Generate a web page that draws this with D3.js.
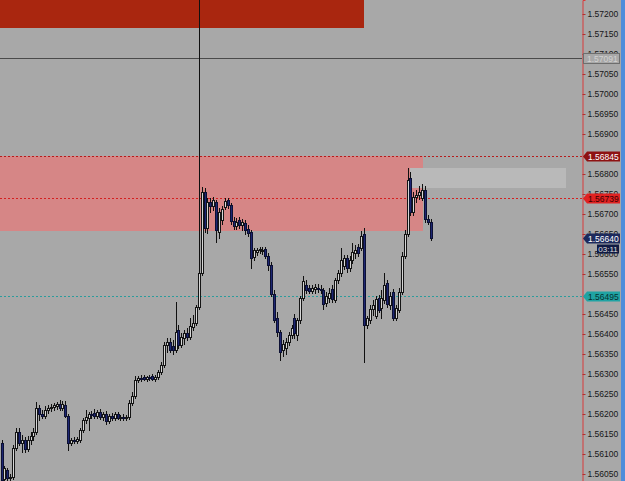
<!DOCTYPE html>
<html>
<head>
<meta charset="utf-8">
<script src="https://cdn.jsdelivr.net/npm/d3@7"></script>
<style>
  body { margin: 0; background: #a8a8a8; }
  svg { display: block; }
  text { font-family: 'Liberation Sans', Arial, sans-serif; }
</style>
</head>
<body>
<div class="chart"></div>
<script>
const WIDTH = 625;
const HEIGHT = 481;
const AXIS_X = 582;
const BG = '#a8a8a8';

// candles (oldest -> newest)
const opens = [
  1.56128, 1.56038, 1.56060, 1.56040, 1.56043, 1.56115, 1.56155, 1.56128, 1.56135, 1.56113,
  1.56135, 1.56145, 1.56155, 1.56215, 1.56200, 1.56195, 1.56210, 1.56215, 1.56218, 1.56220,
  1.56225, 1.56215, 1.56223, 1.56195, 1.56128, 1.56135, 1.56133, 1.56135, 1.56160, 1.56185,
  1.56190, 1.56200, 1.56203, 1.56195, 1.56205, 1.56193, 1.56200, 1.56183, 1.56195, 1.56190,
  1.56200, 1.56190, 1.56193, 1.56190, 1.56193, 1.56228, 1.56245, 1.56285, 1.56290, 1.56293,
  1.56288, 1.56293, 1.56295, 1.56288, 1.56293, 1.56305, 1.56323, 1.56373, 1.56380, 1.56370,
  1.56360, 1.56410, 1.56373, 1.56390, 1.56403, 1.56393, 1.56418, 1.56428, 1.56468, 1.56553,
  1.56755, 1.56665, 1.56730, 1.56720, 1.56730, 1.56655, 1.56685, 1.56718, 1.56735, 1.56723,
  1.56683, 1.56670, 1.56685, 1.56673, 1.56678, 1.56663, 1.56655, 1.56593, 1.56605, 1.56610,
  1.56610, 1.56613, 1.56595, 1.56573, 1.56500, 1.56440, 1.56405, 1.56360, 1.56365, 1.56380,
  1.56398, 1.56440, 1.56398, 1.56435, 1.56490, 1.56523, 1.56515, 1.56508, 1.56513, 1.56515,
  1.56513, 1.56510, 1.56478, 1.56490, 1.56513, 1.56485, 1.56535, 1.56553, 1.56570, 1.56590,
  1.56565, 1.56585, 1.56603, 1.56618, 1.56615, 1.56650, 1.56423, 1.56435, 1.56463, 1.56445,
  1.56490, 1.56465, 1.56485, 1.56528, 1.56473, 1.56505, 1.56440, 1.56460, 1.56505, 1.56595,
  1.56650, 1.56790, 1.56705, 1.56743, 1.56748, 1.56740, 1.56760, 1.56688, 1.56680
];
const highs = [
  1.56135, 1.56070, 1.56065, 1.56050, 1.56123, 1.56165, 1.56165, 1.56148, 1.56143, 1.56145,
  1.56155, 1.56165, 1.56230, 1.56223, 1.56210, 1.56220, 1.56223, 1.56225, 1.56228, 1.56230,
  1.56235, 1.56233, 1.56233, 1.56200, 1.56140, 1.56143, 1.56143, 1.56165, 1.56190, 1.56210,
  1.56205, 1.56208, 1.56213, 1.56210, 1.56213, 1.56205, 1.56208, 1.56200, 1.56203, 1.56205,
  1.56205, 1.56198, 1.56200, 1.56198, 1.56235, 1.56255, 1.56295, 1.56295, 1.56298, 1.56298,
  1.56295, 1.56298, 1.56300, 1.56298, 1.56310, 1.56330, 1.56380, 1.56390, 1.56390, 1.56385,
  1.56480, 1.56423, 1.56403, 1.56410, 1.56415, 1.56440, 1.56448, 1.56473, 1.57260, 1.56768,
  1.56765, 1.56740, 1.56740, 1.56743, 1.56735, 1.56715, 1.56720, 1.56740, 1.56740, 1.56728,
  1.56693, 1.56690, 1.56693, 1.56688, 1.56685, 1.56673, 1.56660, 1.56615, 1.56615, 1.56618,
  1.56618, 1.56618, 1.56603, 1.56580, 1.56510, 1.56455, 1.56410, 1.56385, 1.56390, 1.56405,
  1.56423, 1.56450, 1.56440, 1.56495, 1.56545, 1.56535, 1.56523, 1.56523, 1.56525, 1.56525,
  1.56523, 1.56515, 1.56505, 1.56515, 1.56523, 1.56540, 1.56560, 1.56615, 1.56598, 1.56598,
  1.56595, 1.56628, 1.56623, 1.56625, 1.56658, 1.56665, 1.56445, 1.56473, 1.56485, 1.56495,
  1.56498, 1.56510, 1.56553, 1.56535, 1.56505, 1.56513, 1.56473, 1.56515, 1.56605, 1.56660,
  1.56815, 1.56805, 1.56755, 1.56760, 1.56770, 1.56775, 1.56770, 1.56698, 1.56688
];
const lows = [
  1.56033, 1.56033, 1.56033, 1.56033, 1.56038, 1.56110, 1.56123, 1.56105, 1.56105, 1.56108,
  1.56125, 1.56135, 1.56150, 1.56185, 1.56190, 1.56190, 1.56203, 1.56208, 1.56210, 1.56213,
  1.56210, 1.56210, 1.56193, 1.56110, 1.56123, 1.56128, 1.56128, 1.56130, 1.56155, 1.56178,
  1.56160, 1.56190, 1.56190, 1.56190, 1.56188, 1.56185, 1.56175, 1.56178, 1.56185, 1.56185,
  1.56188, 1.56185, 1.56185, 1.56185, 1.56188, 1.56223, 1.56240, 1.56280, 1.56283, 1.56285,
  1.56283, 1.56285, 1.56285, 1.56283, 1.56288, 1.56300, 1.56318, 1.56355, 1.56355, 1.56350,
  1.56355, 1.56365, 1.56368, 1.56375, 1.56385, 1.56388, 1.56410, 1.56423, 1.56463, 1.56548,
  1.56655, 1.56653, 1.56705, 1.56710, 1.56630, 1.56640, 1.56675, 1.56713, 1.56715, 1.56675,
  1.56663, 1.56663, 1.56665, 1.56660, 1.56650, 1.56645, 1.56565, 1.56585, 1.56598, 1.56603,
  1.56600, 1.56590, 1.56560, 1.56495, 1.56430, 1.56395, 1.56335, 1.56345, 1.56350, 1.56373,
  1.56390, 1.56390, 1.56385, 1.56428, 1.56485, 1.56503, 1.56503, 1.56503, 1.56503, 1.56505,
  1.56503, 1.56463, 1.56470, 1.56480, 1.56480, 1.56480, 1.56528, 1.56545, 1.56563, 1.56555,
  1.56558, 1.56578, 1.56590, 1.56595, 1.56610, 1.56330, 1.56415, 1.56428, 1.56448, 1.56440,
  1.56455, 1.56440, 1.56478, 1.56468, 1.56463, 1.56435, 1.56435, 1.56455, 1.56500, 1.56590,
  1.56645, 1.56698, 1.56698, 1.56730, 1.56738, 1.56735, 1.56680, 1.56675, 1.56635
];
const closes = [
  1.56035, 1.56065, 1.56040, 1.56043, 1.56115, 1.56155, 1.56128, 1.56135, 1.56113, 1.56135,
  1.56145, 1.56155, 1.56215, 1.56200, 1.56195, 1.56210, 1.56215, 1.56218, 1.56223, 1.56225,
  1.56215, 1.56225, 1.56195, 1.56128, 1.56135, 1.56133, 1.56138, 1.56160, 1.56185, 1.56193,
  1.56200, 1.56198, 1.56195, 1.56205, 1.56193, 1.56200, 1.56183, 1.56195, 1.56190, 1.56200,
  1.56190, 1.56193, 1.56190, 1.56193, 1.56228, 1.56245, 1.56285, 1.56290, 1.56288, 1.56288,
  1.56293, 1.56290, 1.56288, 1.56293, 1.56305, 1.56323, 1.56373, 1.56380, 1.56360, 1.56360,
  1.56405, 1.56373, 1.56393, 1.56403, 1.56393, 1.56420, 1.56428, 1.56468, 1.56553, 1.56755,
  1.56665, 1.56730, 1.56720, 1.56735, 1.56660, 1.56705, 1.56713, 1.56733, 1.56723, 1.56683,
  1.56670, 1.56680, 1.56673, 1.56680, 1.56660, 1.56653, 1.56590, 1.56610, 1.56610, 1.56613,
  1.56610, 1.56595, 1.56573, 1.56500, 1.56435, 1.56405, 1.56355, 1.56375, 1.56380, 1.56398,
  1.56415, 1.56403, 1.56435, 1.56490, 1.56533, 1.56510, 1.56508, 1.56515, 1.56518, 1.56513,
  1.56510, 1.56475, 1.56495, 1.56503, 1.56488, 1.56535, 1.56553, 1.56585, 1.56590, 1.56565,
  1.56585, 1.56605, 1.56610, 1.56603, 1.56645, 1.56423, 1.56440, 1.56463, 1.56473, 1.56488,
  1.56460, 1.56490, 1.56523, 1.56475, 1.56495, 1.56440, 1.56465, 1.56505, 1.56595, 1.56650,
  1.56785, 1.56705, 1.56743, 1.56748, 1.56755, 1.56760, 1.56688, 1.56680, 1.56640
];

// price axis labels (the ones fully covered by price tags are left out)
const tickValues = [
  1.56050, 1.56100, 1.56150, 1.56200, 1.56250, 1.56300, 1.56350, 1.56400,
  1.56450, 1.56550, 1.56600, 1.56650, 1.56700, 1.56750, 1.56800,
  1.56900, 1.56950, 1.57000, 1.57050, 1.57100, 1.57150, 1.57200
];

// rectangles: price range + bar-index range
const zoneTops = [1.57300, 1.56845, 1.56815];
const zoneBottoms = [1.57165, 1.56658, 1.56765];
const zoneStarts = [-5, -5, 140.9];
const zoneEnds = [125, 145.3, 194.7];
const zoneColors = ['#a9260f', '#d68686', '#b9b9b9'];

// horizontal levels
const levelPrices = [1.56845, 1.56739, 1.56495];
const levelColors = ['#b51c1c', '#d42020', '#2c9c9c'];
const tagFills = ['#8e1212', '#e02222', '#1fa3a3'];
const tagText = ['#ffffff', '#3a0000', '#05302f'];

const hLinePrice = 1.57091;
const bidPrice = 1.56640;
const countdown = '03:11';

const xScale = d3.scaleLinear()
  .domain([0, closes.length - 1])
  .range([1.5, 430.7]);

const yScale = d3.scaleLinear()
  .domain([1.560325, 1.57235])
  .range([HEIGHT, 0]);

const fmt = d3.format('.5f');

const svg = d3.select('.chart')
  .append('svg')
  .attr('width', WIDTH)
  .attr('height', HEIGHT);

svg.append('rect')
  .attr('width', WIDTH)
  .attr('height', HEIGHT)
  .attr('fill', BG);

const plot = svg.append('g');

plot.append('clipPath')
  .attr('id', 'plotClip')
  .append('rect')
  .attr('width', AXIS_X)
  .attr('height', HEIGHT);

const inner = plot.append('g').attr('clip-path', 'url(#plotClip)');

// zones
inner.selectAll('rect.zone')
  .data(zoneTops)
  .enter()
  .append('rect')
  .attr('class', 'zone')
  .attr('x', (d, i) => Math.round(xScale(zoneStarts[i])))
  .attr('y', d => Math.round(yScale(d)))
  .attr('width', (d, i) => Math.round(xScale(zoneEnds[i]) - xScale(zoneStarts[i])))
  .attr('height', (d, i) => Math.round(yScale(zoneBottoms[i]) - yScale(d)))
  .attr('fill', (d, i) => zoneColors[i]);

// levels
inner.selectAll('line.level')
  .data(levelPrices)
  .enter()
  .append('line')
  .attr('class', 'level')
  .attr('x1', 0)
  .attr('x2', AXIS_X)
  .attr('y1', d => Math.round(yScale(d)) + 0.5)
  .attr('y2', d => Math.round(yScale(d)) + 0.5)
  .attr('stroke', (d, i) => levelColors[i])
  .attr('stroke-dasharray', '2,2');

inner.append('line')
  .attr('x1', 0)
  .attr('x2', AXIS_X)
  .attr('y1', Math.round(yScale(hLinePrice)) + 0.5)
  .attr('y2', Math.round(yScale(hLinePrice)) + 0.5)
  .attr('stroke', '#4a4a4a');

// candles
const idx = d3.range(closes.length);
const cx = i => Math.round(xScale(i));

inner.selectAll('line.wick')
  .data(idx)
  .enter()
  .append('line')
  .attr('class', 'wick')
  .attr('x1', i => cx(i) + 0.5)
  .attr('x2', i => cx(i) + 0.5)
  .attr('y1', i => Math.round(yScale(highs[i])))
  .attr('y2', i => Math.round(yScale(lows[i])) + 1)
  .attr('stroke', '#101010');

inner.selectAll('rect.body')
  .data(idx)
  .enter()
  .append('rect')
  .attr('class', 'body')
  .attr('x', i => cx(i) - 0.5)
  .attr('y', i => Math.round(yScale(Math.max(opens[i], closes[i]))) + 0.5)
  .attr('width', 2)
  .attr('height', i => Math.max(1, Math.round(Math.abs(yScale(opens[i]) - yScale(closes[i])))))
  .attr('fill', i => closes[i] >= opens[i] ? '#d6d6d6' : '#1d2672')
  .attr('stroke', i => closes[i] >= opens[i] ? '#151515' : '#0c1033');

// right price scale
const yAxis = d3.axisRight(yScale)
  .tickValues(tickValues)
  .tickFormat(fmt)
  .tickSize(3)
  .tickPadding(2);

const axisG = svg.append('g')
  .attr('transform', `translate(${AXIS_X + 0.5}, 0)`)
  .call(yAxis);

axisG.select('.domain').attr('stroke', '#d83a3a');
axisG.selectAll('.tick line').attr('stroke', '#b03030');
axisG.selectAll('.tick text')
  .attr('fill', '#161616')
  .style('font-size', '8.5px')
  .style('font-family', "'Liberation Sans', Arial, sans-serif");

svg.append('rect')
  .attr('x', 621)
  .attr('y', 0)
  .attr('width', 4)
  .attr('height', HEIGHT)
  .attr('fill', '#4f8ddb');

// price tags
function priceTag(price, fill, color) {
  const y = Math.round(yScale(price)) + 0.5;
  svg.append('path')
    .attr('d', `M${AXIS_X + 1},${y} L${AXIS_X + 5},${y - 5} L${AXIS_X + 38},${y - 5} L${AXIS_X + 38},${y + 5} L${AXIS_X + 5},${y + 5} Z`)
    .attr('fill', fill);
  svg.append('text')
    .attr('x', AXIS_X + 6)
    .attr('y', y + 3)
    .attr('fill', color)
    .style('font-size', '8.5px')
    .text(fmt(price));
}

// gray horizontal-line label
const hy = Math.round(yScale(hLinePrice)) + 0.5;
svg.append('rect')
  .attr('x', AXIS_X + 1.5)
  .attr('y', hy - 5)
  .attr('width', 36)
  .attr('height', 10)
  .attr('fill', BG)
  .attr('stroke', '#6e6e6e');
svg.append('text')
  .attr('x', AXIS_X + 5)
  .attr('y', hy + 3)
  .attr('fill', '#d2d2d2')
  .style('font-size', '8.5px')
  .text(fmt(hLinePrice));

levelPrices.forEach((p, i) => priceTag(p, tagFills[i], tagText[i]));
priceTag(bidPrice, '#1c2a5c', '#ffffff');

const by = Math.round(yScale(bidPrice)) + 0.5;
svg.append('rect')
  .attr('x', 597)
  .attr('y', by + 6)
  .attr('width', 22)
  .attr('height', 9)
  .attr('fill', '#0f1a44');
svg.append('text')
  .attr('x', 608)
  .attr('y', by + 13.5)
  .attr('text-anchor', 'middle')
  .attr('fill', '#e0e0e0')
  .style('font-size', '8px')
  .text(countdown);
</script>
</body>
</html>
